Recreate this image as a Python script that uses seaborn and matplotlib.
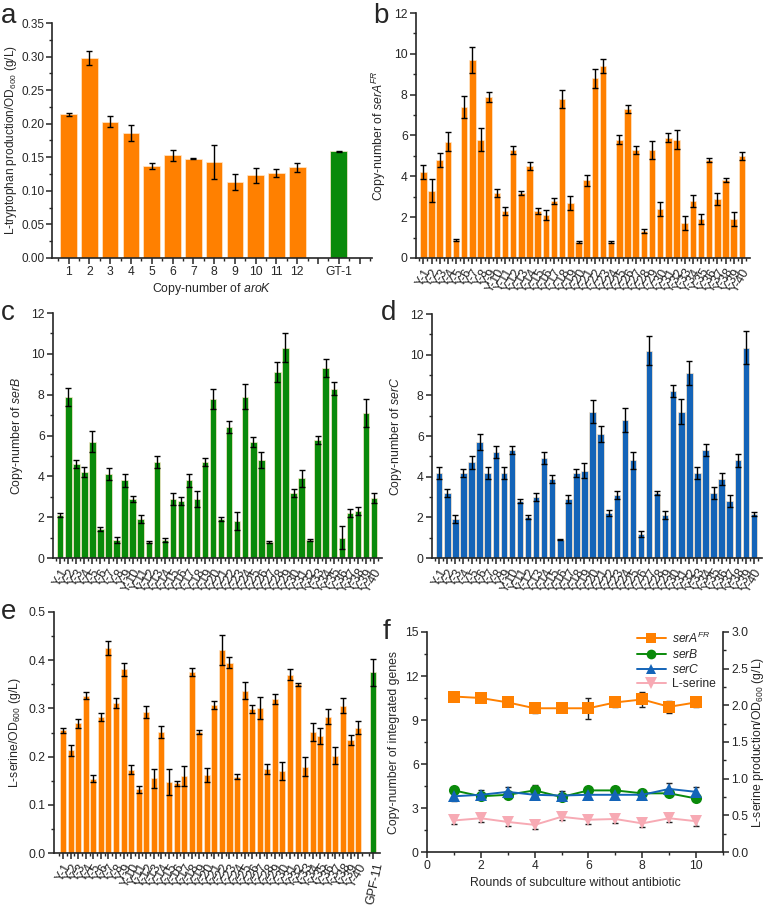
import numpy as np
import pandas as pd
import matplotlib
matplotlib.use("Agg")
import matplotlib.pyplot as plt
import seaborn as sns
from matplotlib.ticker import MultipleLocator, FixedLocator
from matplotlib.lines import Line2D

sns.set_style("ticks")
plt.rcParams['font.family'] = ['Liberation Sans', 'DejaVu Sans']
plt.rcParams['mathtext.fontset'] = 'custom'
plt.rcParams['mathtext.rm'] = 'Liberation Sans'
plt.rcParams['mathtext.it'] = 'Liberation Sans:italic'
plt.rcParams['axes.linewidth'] = 1.2

ORANGE = "#FF8000"
GREEN = "#0A8A0A"
BLUE = "#1464B8"
PINK = "#F7AAB4"

# ---------------- data ----------------
# panel a
aroK_labels = ["1", "2", "3", "4", "5", "6", "7", "8", "9", "10", "11", "12", "GT-1"]
aroK_pos = [1, 2, 3, 4, 5, 6, 7, 8, 9, 10, 11, 12, 14]
aroK_val = [0.214, 0.298, 0.203, 0.186, 0.137, 0.153, 0.148, 0.143, 0.113, 0.123, 0.126, 0.135, 0.159]
aroK_err = [0.002, 0.011, 0.008, 0.012, 0.005, 0.008, 0.001, 0.026, 0.012, 0.011, 0.006, 0.007, 0.001]

Y_labels = [f"Y-{i}" for i in range(1, 41)]

# panel b
serA_val = [4.2, 3.3, 4.8, 5.7, 0.9, 7.4, 9.7, 5.8, 7.9, 3.2, 2.3, 5.3, 3.2, 4.5, 2.3, 2.1, 2.8, 7.8, 2.7, 0.8,
            3.8, 8.8, 9.4, 0.8, 5.8, 7.3, 5.3, 1.3, 5.3, 2.4, 5.9, 5.8, 1.7, 2.8, 1.9, 4.8, 2.9, 3.8, 1.9, 5.0]
serA_err = [0.35, 0.55, 0.35, 0.45, 0.05, 0.55, 0.65, 0.55, 0.25, 0.2, 0.2, 0.2, 0.1, 0.2, 0.15, 0.25, 0.15, 0.45, 0.35, 0.05,
            0.25, 0.45, 0.35, 0.05, 0.2, 0.2, 0.2, 0.1, 0.45, 0.35, 0.2, 0.45, 0.35, 0.3, 0.25, 0.1, 0.3, 0.1, 0.35, 0.2]

# panel c
serB_val = [2.1, 7.9, 4.6, 4.2, 5.7, 1.4, 4.1, 0.9, 3.8, 2.9, 1.9, 0.8, 4.7, 0.9, 2.9, 2.8, 3.8, 2.9, 4.7, 7.8,
            1.9, 6.4, 1.8, 7.9, 5.7, 4.8, 0.8, 9.1, 10.3, 3.2, 3.9, 0.9, 5.8, 9.3, 8.3, 1.0, 2.2, 2.3, 7.1, 2.95]
serB_err = [0.1, 0.45, 0.2, 0.25, 0.5, 0.1, 0.3, 0.15, 0.3, 0.15, 0.2, 0.05, 0.3, 0.1, 0.3, 0.2, 0.3, 0.4, 0.2, 0.5,
            0.1, 0.3, 0.45, 0.6, 0.25, 0.4, 0.05, 0.5, 0.7, 0.2, 0.4, 0.05, 0.2, 0.45, 0.3, 0.55, 0.2, 0.2, 0.7, 0.25]

# panel d
serC_val = [4.2, 3.2, 1.9, 4.2, 4.7, 5.7, 4.2, 5.2, 4.2, 5.3, 2.8, 2.0, 3.0, 4.9, 3.9, 0.9, 2.9, 4.2, 4.3, 7.2,
            6.1, 2.2, 3.1, 6.8, 4.8, 1.2, 10.2, 3.2, 2.1, 8.2, 7.2, 9.1, 4.2, 5.3, 3.2, 3.9, 2.8, 4.8, 10.35, 2.15]
serC_err = [0.3, 0.2, 0.2, 0.2, 0.3, 0.4, 0.3, 0.3, 0.3, 0.2, 0.1, 0.1, 0.2, 0.3, 0.2, 0.02, 0.2, 0.2, 0.35, 0.55,
            0.4, 0.15, 0.2, 0.6, 0.4, 0.15, 0.7, 0.1, 0.2, 0.3, 0.6, 0.6, 0.3, 0.3, 0.3, 0.3, 0.3, 0.3, 0.8, 0.1]

# panel e
ser_labels = Y_labels + ["GPF-11"]
ser_pos = list(range(1, 41)) + [42]
ser_val = [0.255, 0.213, 0.269, 0.326, 0.154, 0.282, 0.425, 0.311, 0.381, 0.173, 0.132, 0.293, 0.155, 0.251, 0.148,
           0.145, 0.160, 0.376, 0.251, 0.162, 0.307, 0.422, 0.395, 0.158, 0.337, 0.299, 0.301, 0.174, 0.320, 0.170,
           0.370, 0.350, 0.179, 0.251, 0.243, 0.283, 0.202, 0.306, 0.235, 0.260, 0.375]
ser_err = [0.005, 0.012, 0.010, 0.007, 0.007, 0.009, 0.015, 0.011, 0.014, 0.010, 0.008, 0.013, 0.020, 0.012, 0.027,
           0.005, 0.020, 0.008, 0.005, 0.015, 0.009, 0.031, 0.011, 0.005, 0.018, 0.008, 0.022, 0.011, 0.010, 0.018,
           0.012, 0.003, 0.020, 0.018, 0.016, 0.015, 0.018, 0.015, 0.010, 0.014, 0.028]

# panel f
rounds = [1, 2, 3, 4, 5, 6, 7, 8, 9, 10]
f_serA = [10.6, 10.5, 10.2, 9.8, 9.8, 9.8, 10.2, 10.4, 9.9, 10.2]
f_serA_err = [0.2, 0.2, 0.2, 0.3, 0.2, 0.7, 0.3, 0.5, 0.4, 0.3]
f_serB = [4.2, 3.8, 3.9, 4.2, 3.75, 4.2, 4.2, 4.0, 4.0, 3.65]
f_serB_err = [0.1, 0.2, 0.2, 0.4, 0.1, 0.1, 0.1, 0.2, 0.1, 0.1]
f_serC = [3.8, 3.9, 4.1, 3.9, 3.85, 3.9, 3.9, 3.9, 4.3, 4.1]
f_serC_err = [0.3, 0.3, 0.3, 0.3, 0.3, 0.3, 0.3, 0.2, 0.4, 0.3]
f_ser = [0.43, 0.46, 0.41, 0.37, 0.48, 0.44, 0.45, 0.39, 0.46, 0.42]
f_ser_err = [0.05, 0.05, 0.06, 0.05, 0.05, 0.06, 0.05, 0.05, 0.05, 0.06]

# ---------------- figure ----------------
W, H = 766, 905
fig = plt.figure(figsize=(W / 100, H / 100), dpi=100)


def add_ax(l, r, t, b):
    return fig.add_axes([l / W, 1 - b / H, (r - l) / W, (b - t) / H])


TICK_FS = 8.7
LAB_FS = 8.8
ROT_FS = 9


def bar_panel(ax, pos, val, err, grp, palette):
    df = pd.DataFrame({"pos": pos, "val": val, "grp": grp})
    sns.barplot(data=df, x="pos", y="val", hue="grp", palette=palette, native_scale=True,
                orient="x", dodge=False, legend=False, errorbar=None, width=0.8, saturation=1,
                edgecolor="#FFE8CC", linewidth=0.5, ax=ax)
    ax.errorbar(pos, val, yerr=err, fmt="none", ecolor="black", elinewidth=1.0,
                capsize=2.3, capthick=1.0, zorder=5)
    sns.despine(ax=ax)
    ax.tick_params(axis="both", which="major", direction="out", length=4, width=1.1, labelsize=TICK_FS, pad=2)
    ax.tick_params(axis="both", which="minor", direction="out", length=2.5, width=1.0)
    ax.set_xlabel("")
    ax.set_ylabel("")


# panel a
ax_a = add_ax(52, 372, 23, 258)
bar_panel(ax_a, aroK_pos, aroK_val, aroK_err, ["o"] * 12 + ["g"], {"o": ORANGE, "g": GREEN})
ax_a.set_xlim(0.2, 15.6)
ax_a.set_ylim(0, 0.35)
ax_a.yaxis.set_major_locator(MultipleLocator(0.05))
ax_a.yaxis.set_minor_locator(MultipleLocator(0.025))
ax_a.yaxis.set_major_formatter(matplotlib.ticker.FormatStrFormatter("%.2f"))
ax_a.xaxis.set_major_locator(FixedLocator(list(range(1, 16))))
ax_a.set_xticklabels([aroK_labels[aroK_pos.index(p)] if p in aroK_pos else "" for p in range(1, 16)])
ax_a.xaxis.set_minor_locator(FixedLocator([p + 0.5 for p in range(0, 16)]))
ax_a.tick_params(axis="y", labelsize=8.5, pad=1.5)
ax_a.set_ylabel("L-tryptophan production/OD$_{600}$ (g/L)", fontsize=8.6, labelpad=1.5)
ax_a.set_xlabel("Copy-number of $aroK$", fontsize=LAB_FS, labelpad=2)


def y_axis_panel(ax, ylabel):
    ax.set_xlim(0.1, 41)
    ax.set_ylim(0, 12)
    ax.yaxis.set_major_locator(MultipleLocator(2))
    ax.yaxis.set_minor_locator(MultipleLocator(1))
    ax.xaxis.set_major_locator(FixedLocator(list(range(1, 41))))
    ax.xaxis.set_minor_locator(FixedLocator([p + 0.5 for p in range(0, 41)]))
    ax.set_xticklabels(Y_labels, rotation=60, ha="right", va="top", rotation_mode="anchor", fontsize=ROT_FS)
    ax.set_ylabel(ylabel, fontsize=LAB_FS, labelpad=4)


pos40 = list(range(1, 41))
ax_b = add_ax(416, 750, 13, 258)
bar_panel(ax_b, pos40, serA_val, serA_err, ["o"] * 40, {"o": ORANGE})
y_axis_panel(ax_b, "Copy-number of $serA^{FR}$")

ax_c = add_ax(53, 382, 313, 558)
bar_panel(ax_c, pos40, serB_val, serB_err, ["g"] * 40, {"g": GREEN})
y_axis_panel(ax_c, "Copy-number of $serB$")

ax_d = add_ax(432, 762, 314, 558)
bar_panel(ax_d, pos40, serC_val, serC_err, ["b"] * 40, {"b": BLUE})
y_axis_panel(ax_d, "Copy-number of $serC$")

# panel e
ax_e = add_ax(54, 380, 612, 853)
bar_panel(ax_e, ser_pos, ser_val, ser_err, ["o"] * 40 + ["g"], {"o": ORANGE, "g": GREEN})
ax_e.set_xlim(-0.2, 42.9)
ax_e.set_ylim(0, 0.5)
ax_e.yaxis.set_major_locator(MultipleLocator(0.1))
ax_e.yaxis.set_minor_locator(MultipleLocator(0.05))
ax_e.yaxis.set_major_formatter(matplotlib.ticker.FormatStrFormatter("%.1f"))
ax_e.xaxis.set_major_locator(FixedLocator(ser_pos))
ax_e.xaxis.set_minor_locator(FixedLocator([p + 0.5 for p in range(0, 42)]))
ax_e.set_xticklabels(ser_labels, rotation=60, ha="right", va="top", rotation_mode="anchor", fontsize=ROT_FS)
ax_e.get_xticklabels()[-1].set_rotation(78)
ax_e.set_ylabel("L-serine/OD$_{600}$ (g/L)", fontsize=LAB_FS, labelpad=4)

# panel f
ax_f = add_ax(427, 723, 632, 852)
ax_f2 = ax_f.twinx()
df_f = pd.DataFrame({
    "round": rounds * 3,
    "val": f_serA + f_serB + f_serC,
    "gene": ["serA"] * 10 + ["serB"] * 10 + ["serC"] * 10,
})
gene_colors = {"serA": ORANGE, "serB": GREEN, "serC": BLUE}
gene_markers = {"serA": "s", "serB": "o", "serC": "^"}
for g, errs in [("serA", f_serA_err), ("serB", f_serB_err), ("serC", f_serC_err)]:
    sub = df_f[df_f["gene"] == g]
    ax_f.errorbar(sub["round"], sub["val"], yerr=errs, fmt="none", ecolor="#222222",
                  elinewidth=1.0, capsize=2.5, capthick=1.0, zorder=2)
sns.lineplot(data=df_f, x="round", y="val", hue="gene", style="gene", palette=gene_colors,
             markers=gene_markers, dashes=False, markersize=8, markeredgewidth=0,
             linewidth=1.4, legend=False, ax=ax_f, zorder=3)
df_s = pd.DataFrame({"round": rounds, "val": f_ser})
ax_f2.errorbar(rounds, f_ser, yerr=f_ser_err, fmt="none", ecolor="#222222",
               elinewidth=1.0, capsize=2.5, capthick=1.0, zorder=2)
sns.lineplot(data=df_s, x="round", y="val", color=PINK, marker="v", markersize=8.5,
             markeredgewidth=0, linewidth=1.4, ax=ax_f2, zorder=3)

ax_f.set_xlim(0, 11)
ax_f.set_ylim(0, 15)
ax_f2.set_ylim(0, 3.0)
ax_f.xaxis.set_major_locator(MultipleLocator(2))
ax_f.xaxis.set_minor_locator(MultipleLocator(1))
ax_f.yaxis.set_major_locator(MultipleLocator(3))
ax_f.yaxis.set_minor_locator(MultipleLocator(1.5))
ax_f2.yaxis.set_major_locator(MultipleLocator(0.5))
ax_f2.yaxis.set_minor_locator(MultipleLocator(0.25))
ax_f2.yaxis.set_major_formatter(matplotlib.ticker.FormatStrFormatter("%.1f"))
for a in (ax_f, ax_f2):
    a.spines["top"].set_visible(False)
    a.tick_params(axis="both", which="major", direction="out", length=4, width=1.1, labelsize=TICK_FS, pad=2)
    a.tick_params(axis="both", which="minor", direction="out", length=2.5, width=1.0)
ax_f.spines["right"].set_visible(False)
ax_f2.spines["left"].set_visible(False)
ax_f2.spines["bottom"].set_visible(False)
ax_f.set_xlabel("Rounds of subculture without antibiotic", fontsize=LAB_FS, labelpad=3)
ax_f.set_ylabel("Copy-number of integrated genes", fontsize=LAB_FS, labelpad=4)
ax_f2.set_ylabel("L-serine production/OD$_{600}$ (g/L)", fontsize=LAB_FS, labelpad=1)

handles = [
    Line2D([], [], color=ORANGE, marker="s", markersize=7, lw=1.4, markeredgewidth=0),
    Line2D([], [], color=GREEN, marker="o", markersize=7, lw=1.4, markeredgewidth=0),
    Line2D([], [], color=BLUE, marker="^", markersize=7, lw=1.4, markeredgewidth=0),
    Line2D([], [], color=PINK, marker="v", markersize=8, lw=1.4, markeredgewidth=0),
]
ax_f2.legend(handles, ["$serA^{FR}$", "$serB$", "$serC$", "L-serine"], loc="upper right",
             bbox_to_anchor=(1.0, 1.04), frameon=False, fontsize=8.7, handlelength=2.4,
             labelspacing=0.18, borderaxespad=0.2, handletextpad=0.5)

# panel letters
for txt, x, y in [("a", 1, 16), ("b", 373, 16), ("c", 1, 313), ("d", 381, 313), ("e", 1, 612), ("f", 383, 632)]:
    fig.text(x / W, 1 - y / H, txt, fontsize=20, ha="left", va="center")

fig.savefig("out.png", dpi=100)
